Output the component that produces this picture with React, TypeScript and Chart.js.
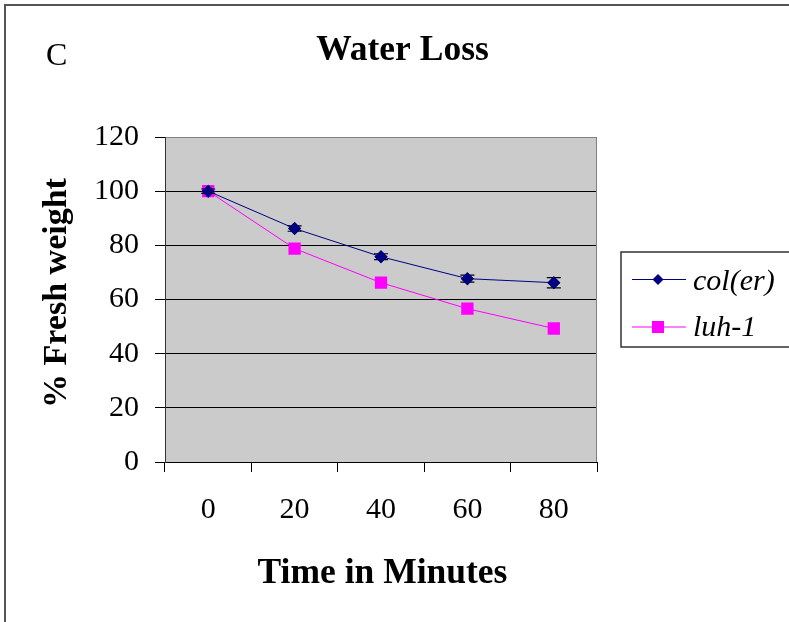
import React, { useEffect, useRef } from "react";
import { Chart, registerables } from "chart.js";

Chart.register(...registerables);

const categories = ["0", "20", "40", "60", "80"];
const colErValues = [100, 86.2, 75.8, 67.7, 66.2];
const colErErrors = [0.8, 1.0, 1.1, 1.3, 1.9];
const luh1Values = [100, 78.8, 66.2, 56.6, 49.3];
const seriesNames = ["col(er)", "luh-1"];
const yMin = 0;
const yMax = 120;
const yStep = 20;
const chartTitle = "Water Loss";
const panelLabel = "C";
const xTitle = "Time in Minutes";
const yTitle = "% Fresh weight";

const SERIF = "'Liberation Serif', 'Times New Roman', Times, serif";
const NAVY = "#000080";
const MAGENTA = "#FF00FF";
const PLOT_BG = "#CBCBCB";

const decorPlugin = {
  id: "decor",
  beforeDraw(chart: any) {
    const { ctx, chartArea } = chart;
    ctx.save();
    ctx.fillStyle = "#FFFFFF";
    ctx.fillRect(0, 0, chart.width, chart.height);
    ctx.fillStyle = PLOT_BG;
    ctx.fillRect(chartArea.left, chartArea.top, chartArea.right - chartArea.left, chartArea.bottom - chartArea.top);
    ctx.restore();
  },
  beforeDatasetsDraw(chart: any) {
    const { ctx, chartArea } = chart;
    ctx.save();
    ctx.strokeStyle = "#808080";
    ctx.lineWidth = 1;
    ctx.beginPath();
    ctx.moveTo(Math.round(chartArea.right) - 0.5, chartArea.top);
    ctx.lineTo(Math.round(chartArea.right) - 0.5, chartArea.bottom);
    ctx.stroke();
    ctx.restore();
  },
  afterDatasetsDraw(chart: any) {
    const { ctx } = chart;
    const meta = chart.getDatasetMeta(0);
    const yScale = chart.scales.y;
    ctx.save();
    ctx.strokeStyle = "#000000";
    ctx.lineWidth = 1.2;
    meta.data.forEach((pt: any, i: number) => {
      const e = colErErrors[i];
      const v = colErValues[i];
      const yTop = yScale.getPixelForValue(v + e);
      const yBot = yScale.getPixelForValue(v - e);
      const x = pt.x;
      ctx.beginPath();
      ctx.moveTo(x, yTop);
      ctx.lineTo(x, yBot);
      ctx.moveTo(x - 7, yTop);
      ctx.lineTo(x + 7, yTop);
      ctx.moveTo(x - 7, yBot);
      ctx.lineTo(x + 7, yBot);
      ctx.stroke();
    });
    ctx.restore();
    // redraw markers on top of error bars
    meta.data.forEach((pt: any) => pt.draw(ctx, chart.chartArea));
  },
  afterDraw(chart: any) {
    const { ctx } = chart;
    ctx.save();
    // outer frame
    ctx.strokeStyle = "#555555";
    ctx.lineWidth = 2;
    ctx.strokeRect(5, 5, 1000, 1000);

    // panel label
    ctx.fillStyle = "#000";
    ctx.textBaseline = "alphabetic";
    ctx.textAlign = "left";
    ctx.font = `32px ${SERIF}`;
    ctx.fillText(panelLabel, 46, 65);

    // title
    ctx.textAlign = "center";
    ctx.font = `bold 35.5px ${SERIF}`;
    ctx.fillText(chartTitle, 402.5, 60);

    // x title
    ctx.fillText(xTitle, 382.5, 583);

    // y title
    ctx.save();
    ctx.translate(66, 293);
    ctx.rotate(-Math.PI / 2);
    ctx.font = `bold 34px ${SERIF}`;
    ctx.textAlign = "center";
    ctx.fillText(yTitle, 0, 0);
    ctx.restore();

    // legend
    ctx.strokeStyle = "#333333";
    ctx.lineWidth = 1.5;
    ctx.strokeRect(621, 252, 400, 95);
    const rows = [
      { y: 279.5, base: 290, color: NAVY, style: "diamond" },
      { y: 327, base: 336, color: MAGENTA, style: "square" },
    ];
    rows.forEach((r, i) => {
      ctx.strokeStyle = r.color;
      ctx.lineWidth = 1;
      ctx.beginPath();
      ctx.moveTo(632, r.y);
      ctx.lineTo(686, r.y);
      ctx.stroke();
      ctx.fillStyle = r.color;
      ctx.beginPath();
      if (r.style === "diamond") {
        ctx.moveTo(658 - 5.5, r.y);
        ctx.lineTo(658, r.y - 5.5);
        ctx.lineTo(658 + 5.5, r.y);
        ctx.lineTo(658, r.y + 5.5);
        ctx.closePath();
      } else {
        ctx.rect(658 - 6, r.y - 6, 12, 12);
      }
      ctx.fill();
      ctx.fillStyle = "#000";
      ctx.textAlign = "left";
      ctx.font = `italic 30px ${SERIF}`;
      ctx.fillText(seriesNames[i], 693, r.base);
    });
    ctx.restore();
  },
};

export default function App() {
  const canvasRef = useRef<HTMLCanvasElement | null>(null);

  useEffect(() => {
    const canvas = canvasRef.current;
    if (!canvas) return;
    const chart = new Chart(canvas, {
      type: "line",
      data: {
        labels: categories,
        datasets: [
          {
            label: seriesNames[0],
            data: colErValues,
            borderColor: NAVY,
            backgroundColor: NAVY,
            borderWidth: 1,
            pointStyle: "rectRot",
            pointRadius: 6.5,
            pointBorderWidth: 0,
            pointBackgroundColor: NAVY,
            tension: 0,
          },
          {
            label: seriesNames[1],
            data: luh1Values,
            borderColor: MAGENTA,
            backgroundColor: MAGENTA,
            borderWidth: 1,
            pointStyle: "rect",
            pointRadius: 8.7,
            pointBorderWidth: 0,
            pointBackgroundColor: MAGENTA,
            tension: 0,
          },
        ],
      },
      options: {
        responsive: false,
        animation: false,
        layout: { padding: { top: 137, right: 192, left: 0, bottom: 0 } },
        plugins: {
          legend: { display: false },
          title: { display: false },
          tooltip: { enabled: false },
        },
        scales: {
          x: {
            type: "category",
            offset: true,
            afterFit: (scale: any) => {
              scale.height = 160;
            },
            grid: {
              offset: true,
              drawOnChartArea: false,
              drawTicks: true,
              tickLength: 10,
              color: "#000000",
              tickColor: "#000000",
            },
            border: { display: true, color: "#000000", width: 1 },
            ticks: {
              color: "#000000",
              padding: 20,
              font: { family: SERIF, size: 30 },
              maxRotation: 0,
              autoSkip: false,
            },
          },
          y: {
            min: yMin,
            max: yMax,
            afterFit: (scale: any) => {
              scale.width = 165;
            },
            grid: {
              drawOnChartArea: true,
              drawTicks: true,
              tickLength: 10,
              color: (ctx: any) => (ctx.tick && ctx.tick.value === yMax ? "#808080" : "#000000"),
              tickColor: "#000000",
              lineWidth: 1,
            },
            border: { display: true, color: "#333333", width: 1 },
            ticks: {
              stepSize: yStep,
              color: "#000000",
              padding: 16,
              font: { family: SERIF, size: 30 },
            },
          },
        },
      },
      plugins: [decorPlugin],
    });
    return () => chart.destroy();
  }, []);

  return (
    <div style={{ position: "absolute", left: 0, top: 0, width: 789, height: 622, background: "#fff" }}>
      <canvas ref={canvasRef} width={789} height={622} style={{ display: "block" }} />
    </div>
  );
}
